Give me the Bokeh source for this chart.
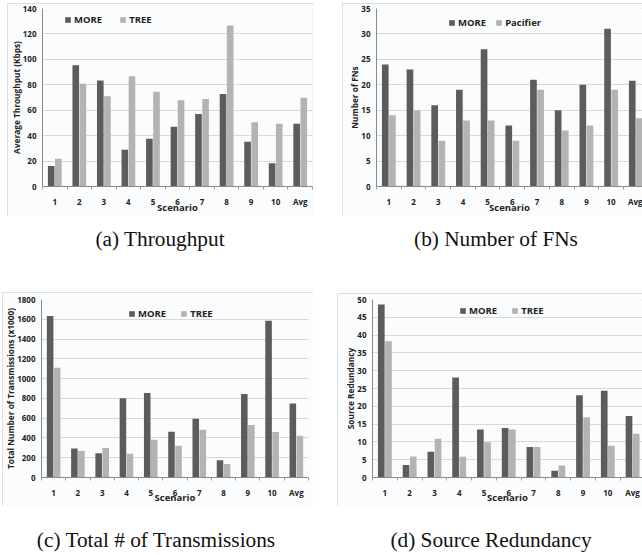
from bokeh.plotting import figure
from bokeh.models import (FixedTicker, Legend, LegendItem, Div, Range1d,
                          ColumnDataSource, Spacer)
from bokeh.layouts import column, row
from bokeh.embed import file_html
from bokeh.resources import INLINE
from bokeh.transform import dodge

scenarios = ["1", "2", "3", "4", "5", "6", "7", "8", "9", "10", "Avg"]

thr_more = [16.2, 95.4, 83.4, 28.9, 37.5, 46.9, 57.1, 72.7, 35.2, 18.2, 49.3]
thr_tree = [21.9, 80.8, 70.9, 86.8, 74.6, 67.8, 68.8, 126.7, 50.6, 49.3, 69.9]

fn_more = [24, 23, 16, 19, 27, 12, 21, 15, 20, 31, 20.8]
fn_pacifier = [14, 15, 9, 13, 13, 9, 19, 11, 12, 19, 13.4]

tx_more = [1632, 292, 245, 801, 855, 463, 593, 174, 845, 1586, 748]
tx_tree = [1110, 268, 298, 241, 382, 322, 483, 137, 530, 459, 422]

red_more = [48.6, 3.5, 7.2, 28.1, 13.5, 13.9, 8.6, 1.9, 23.1, 24.4, 17.3]
red_tree = [38.3, 5.9, 10.9, 5.8, 9.9, 13.5, 8.6, 3.4, 16.9, 8.9, 12.3]

DARK = "#5c5c5c"
LIGHT = "#b3b3b3"
FONT = "Open Sans"
BG = "#fbfcfe"


def panel(more, other, other_name, ylabel, ymax, ystep, width, height,
          mbl, mbr, mbt, mbb, xend, leg_xy, leg_spacing, xlab_standoff):
    idx = list(range(len(scenarios)))
    src = ColumnDataSource(dict(x=idx, more=more, other=other))
    p = figure(width=width, height=height, x_range=Range1d(-0.5, xend),
               y_range=Range1d(0, ymax), output_backend="svg",
               toolbar_location=None, min_border_left=mbl, min_border_right=mbr,
               min_border_top=mbt, min_border_bottom=mbb)
    r1 = p.vbar(x=dodge("x", -0.145, range=p.x_range), top="more", width=0.27,
                source=src, fill_color=DARK, line_color=None)
    r2 = p.vbar(x=dodge("x", 0.145, range=p.x_range), top="other", width=0.27,
                source=src, fill_color=LIGHT, line_color=None)
    p.background_fill_color = BG
    p.border_fill_color = BG
    p.outline_line_color = None
    p.xgrid.grid_line_color = None
    p.ygrid.grid_line_color = "#d9d9d9"
    p.ygrid.ticker = FixedTicker(ticks=list(range(0, ymax + 1, ystep)))

    xa = p.xaxis[0]
    xa.ticker = FixedTicker(ticks=idx, minor_ticks=[i + 0.5 for i in range(-1, len(idx))])
    xa.major_label_overrides = {i: s for i, s in enumerate(scenarios)}
    xa.major_tick_line_color = None
    xa.major_tick_in = 0
    xa.major_tick_out = 0
    xa.minor_tick_line_color = "#a0a0a0"
    xa.minor_tick_in = 0
    xa.minor_tick_out = 3
    xa.axis_line_color = "#8a8a8a"
    xa.major_label_text_font = FONT
    xa.major_label_text_font_style = "bold"
    xa.major_label_text_font_size = "8px"
    xa.major_label_text_color = "#222222"
    xa.major_label_standoff = 6
    xa.axis_label = "Scenario"
    xa.axis_label_text_font = FONT
    xa.axis_label_text_font_style = "bold"
    xa.axis_label_text_font_size = "9.5px"
    xa.axis_label_text_color = "#222222"
    xa.axis_label_standoff = xlab_standoff

    ya = p.yaxis[0]
    ya.ticker = FixedTicker(ticks=list(range(0, ymax + 1, ystep)))
    ya.major_tick_line_color = None
    ya.major_tick_in = 0
    ya.major_tick_out = 0
    ya.minor_tick_line_color = None
    ya.axis_line_color = "#8a8a8a"
    ya.major_label_text_font = FONT
    ya.major_label_text_font_style = "bold"
    ya.major_label_text_font_size = "8px"
    ya.major_label_text_color = "#222222"
    ya.major_label_standoff = 6
    ya.axis_label = ylabel
    ya.axis_label_text_font = FONT
    ya.axis_label_text_font_style = "bold"
    ya.axis_label_text_font_size = "8.3px"
    ya.axis_label_text_color = "#222222"
    ya.axis_label_standoff = -2

    leg = Legend(items=[LegendItem(label="MORE", renderers=[r1]),
                        LegendItem(label=other_name, renderers=[r2])],
                 location=leg_xy, orientation="horizontal",
                 glyph_width=7, glyph_height=7, label_standoff=3,
                 label_width=0, label_height=7, spacing=leg_spacing,
                 padding=0, margin=0, border_line_color=None,
                 background_fill_alpha=0,
                 label_text_font=FONT, label_text_font_style="bold",
                 label_text_font_size="9.5px", label_text_color="#222222")
    p.add_layout(leg)
    p.styles = {"outline": "2px solid #d6d6d6", "outline-offset": "-2px"}
    return p


pa = panel(thr_more, thr_tree, "TREE", "Average Throughput (Kbps)", 140, 20,
           307, 213, 34, 2, 5, 29, 10.5, (22, 160), 17, -9)
pb = panel(fn_more, fn_pacifier, "Pacifier", "Number of FNs", 35, 5,
           300, 213, 34, 0, 5, 29, 10.27, (72, 157), 9, -9)
pc = panel(tx_more, tx_tree, "TREE", "Total Number of Transmissions (x1000)", 1800, 200,
           311, 214, 39, 5, 7, 28, 10.5, (87, 157), 14, -10)
pd = panel(red_more, red_tree, "TREE", "Source Redundancy", 50, 5,
           305, 213, 35, 0, 6, 28, 10.40, (87, 160), 14, -10)


def caption(text, w, h, top):
    html = ('<div style="width:%dpx;text-align:center;font-family:\'Liberation Serif\';'
            'font-size:21.3px;line-height:22px;padding-top:%dpx;color:#111;'
            'white-space:nowrap">%s</div>' % (w, top, text))
    return Div(text=html, width=w, height=h, margin=0)


row1 = row(Spacer(width=7, height=213), pa, Spacer(width=28, height=213), pb)
cap1 = row(caption("(a) Throughput", 320, 76, 12), Spacer(width=30, height=76),
           caption("(b) Number of FNs", 292, 76, 12))
row2 = row(Spacer(width=2, height=214), pc,
           Spacer(width=24, height=214), column(Spacer(width=305, height=1), pd))
cap2 = row(caption("(c) Total # of Transmissions", 312, 49, 23), Spacer(width=28, height=49),
           caption("(d) Source Redundancy", 302, 49, 23))

root = column(Spacer(width=642, height=3), row1, cap1, row2, cap2)

open("out.html", "w").write(file_html(root, INLINE))
